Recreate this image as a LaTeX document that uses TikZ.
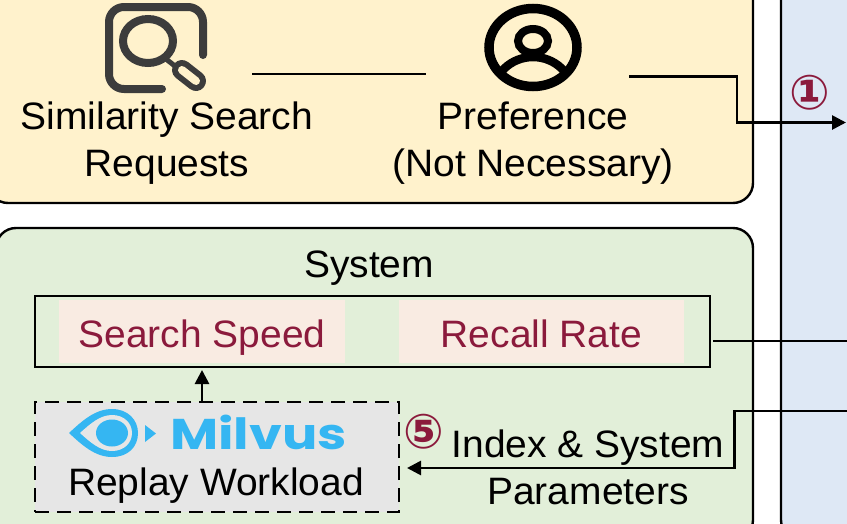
\documentclass[tikz,border=0pt]{standalone}
\usepackage{fontspec}
\usetikzlibrary{arrows.meta}
\setmainfont{Liberation Sans}
\newfontfamily\lab[FakeStretch=1.02]{Liberation Sans}
\newfontfamily\logo[FakeStretch=1.22]{Poppins Bold}
\newfontfamily\circfont{DejaVu Sans Bold}
\definecolor{yelfill}{HTML}{FFF2CC}
\definecolor{grnfill}{HTML}{E2EFD9}
\definecolor{blufill}{HTML}{DEE8F5}
\definecolor{pinkfill}{HTML}{F9EBE2}
\definecolor{wine}{HTML}{8B1A3C}
\definecolor{iconGray}{HTML}{3C3C3C}
\definecolor{milblue}{HTML}{35B6F2}
\definecolor{replay}{HTML}{E6E6E6}
\tikzset{
  panel/.style={draw=black,line width=2.4pt,rounded corners=20pt},
  wire/.style={draw=black,line width=2.7pt},
  arrowwire/.style={wire,-{Triangle[length=14pt,width=14pt]}},
  label/.style={font=\lab\fontsize{38.2}{47}\selectfont,align=center,inner sep=0pt,text=black},
  metric/.style={fill=pinkfill,inner sep=0pt,font=\lab\fontsize{38.2}{47}\selectfont,text=wine,text height=40pt,text depth=9pt},
  numeral/.style={font=\circfont\fontsize{48}{48}\selectfont,text=wine,inner sep=0pt},
  iconline/.style={draw=iconGray,line width=8pt,line cap=round},
}
\begin{document}
\begin{tikzpicture}[x=1pt,y=-1pt]
\useasboundingbox (0,0) rectangle (847,523);
\clip (0,0) rectangle (847,523);
% panels
\draw[panel,fill=yelfill] (-12,-40) rectangle (753,203);
\draw[panel,fill=grnfill] (-4,228) rectangle (753,540);
\draw[panel,fill=blufill] (781,-40) rectangle (880,540);
% search icon
\draw[iconline,rounded corners=15pt] (203,55) -- (203,7) -- (109,7) -- (109,89) -- (162,89);
\draw[draw=iconGray,line width=8pt] (148,41) ellipse [x radius=25,y radius=22];
\draw[draw=iconGray,line width=5pt] (166,59) -- (180,70);
\draw[draw=iconGray,line width=20pt,line cap=round] (182,70) -- (196,81);
\draw[draw=yelfill,line width=8pt,line cap=round] (182,70) -- (196,81);
% person icon
\begin{scope}
\clip (533,47.5) ellipse [x radius=44,y radius=39];
\draw[line width=8.5pt] (533,95) ellipse [x radius=40,y radius=38];
\end{scope}
\draw[line width=9.5pt] (533,47.5) ellipse [x radius=44,y radius=39];
\draw[line width=8pt] (533,41) ellipse [x radius=15,y radius=12];
% texts
\node[label] (sim) at (167,143.5) {Similarity Search\\Requests};
\node[label] (pref) at (533,143.5) {Preference\\(Not Necessary)};
\coordinate (simout) at (252,74);
\coordinate (prefin) at (426,74);
\coordinate (prefout) at (629,76.5);
\coordinate (optin) at (846,122.5);
\draw[wire] (simout) -- (prefin);
\draw[arrowwire] (prefout) -- (737,76.5) -- (737,122.5) -- (optin);
\node[numeral] (one) at (810,93) {①};
% system
\node[label,anchor=base] (systitle) at (369,277) {System};
\node[draw=black,line width=2.8pt,minimum width=675pt,minimum height=71pt,inner sep=0pt] (sysbox) at (372.5,331.5) {};
\node[metric,minimum width=286pt,minimum height=63pt] (speed) at (202,331.5) {Search Speed};
\node[metric,minimum width=285pt,minimum height=63pt] (recall) at (541.5,331.5) {Recall Rate};
% replay
\node[draw=black,line width=2.6pt,dash pattern=on 14pt off 8pt,fill=replay,minimum width=364pt,minimum height=110pt,inner sep=0pt] (replaybox) at (217,457) {};
% eye
\fill[milblue] (69,433) .. controls (82,421) and (95,409) .. (112,409) .. controls (128,409) and (138,420) .. (138,433) .. controls (138,447) and (128,457) .. (112,457) .. controls (95,457) and (82,445) .. (69,433) -- cycle;
\fill[replay] (80,433) .. controls (90,424) and (100,415) .. (112,415) .. controls (124,415) and (132,423) .. (132,433) .. controls (132,443) and (124,451) .. (112,451) .. controls (100,451) and (90,442) .. (80,433) -- cycle;
\fill[milblue] (112,433) ellipse [x radius=16,y radius=13.5];
\fill[milblue] (145,425) -- (156,433.5) -- (145,442) -- cycle;
\node[anchor=base west,inner sep=0pt,font=\logo\fontsize{43}{43}\selectfont,text=milblue] (mil) at (170,449) {Milvus};
\node[label,anchor=base] (replaytext) at (216,495) {Replay Workload};
% connectors
\coordinate (recallout) at (713,341);
\coordinate (rightmid) at (847,341);
\coordinate (rightlow) at (847,411);
\draw[wire] (recallout) -- (rightmid);
\draw[arrowwire] (rightlow) -- (734.5,411) -- (734.5,468) -- (407,468);
\draw[arrowwire] (replaybox.north -| speed) -- (202,370);
\node[numeral] (five) at (424,432) {⑤};
\node[label] (params) at (588,467.5) {Index \& System\\Parameters};
\end{tikzpicture}
\end{document}
